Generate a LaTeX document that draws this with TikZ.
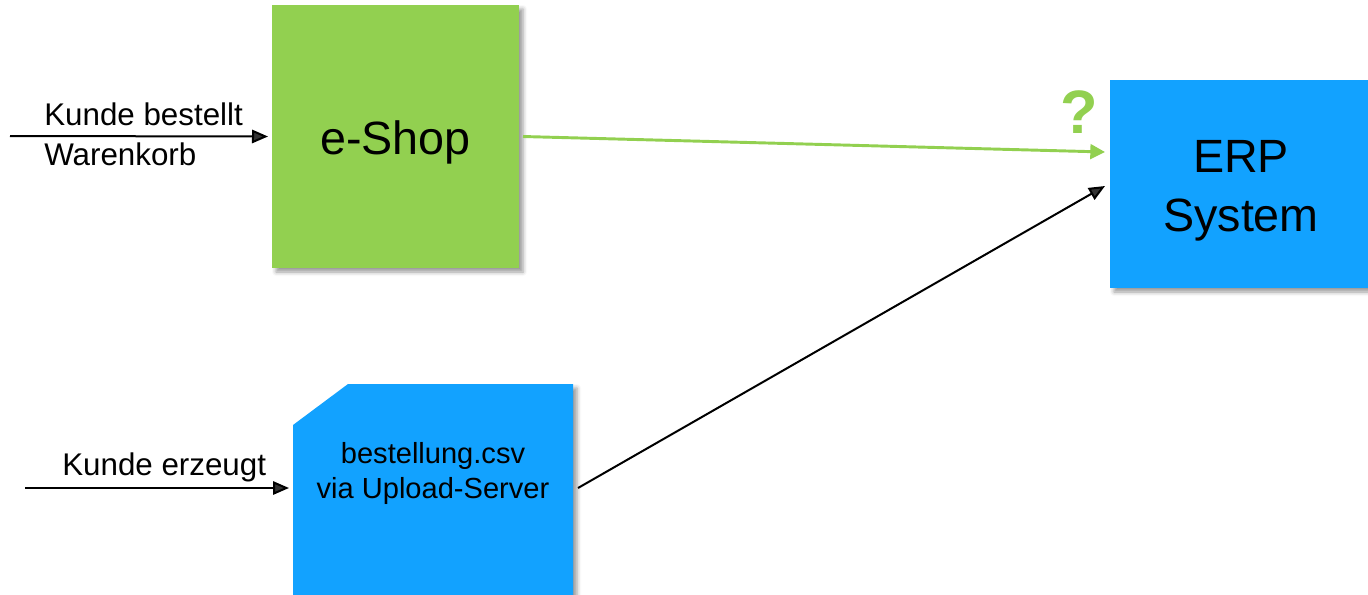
\documentclass[tikz,border=0pt]{standalone}
\usepackage{fontspec}
\setmainfont{Liberation Sans}
\usetikzlibrary{arrows.meta,calc,shadows.blur}
\definecolor{shopgreen}{RGB}{146,208,80}
\definecolor{erpblue}{RGB}{18,162,255}
\begin{document}
\begin{tikzpicture}[x=0.75pt,y=-0.75pt,
  softshadow/.style={blur shadow={shadow xshift=3pt,shadow yshift=-3pt,
      shadow blur radius=3pt,shadow opacity=40}},
  block/.style={rectangle,inner sep=0pt,outer sep=0pt,softshadow},
  bigtext/.style={inner sep=0pt,align=center,font=\fontsize{35}{44.25}\selectfont},
  boxtext/.style={inner sep=0pt,align=center,font=\fontsize{21.8}{26.25}\selectfont},
  smalltext/.style={inner sep=0pt,anchor=base west,font=\fontsize{23.5}{30}\selectfont},
  flow/.style={line width=1.5pt,-{Triangle[length=12pt,width=10pt]}},
  greenflow/.style={draw=shopgreen,line width=2.2pt,-{Triangle[length=11pt,width=11pt]}}
]
\useasboundingbox (0,0) rectangle (1368,594);
\clip (0,0) rectangle (1368,594);

% main blocks
\node[block,fill=shopgreen,minimum width=185.25pt,minimum height=197.25pt] (eshop) at (395.5,136.5) {};
\node[block,fill=erpblue,minimum width=196.5pt,minimum height=156pt] (erp) at (1241,184) {};

% upload file with cut corner
\node[inner sep=0pt,outer sep=0pt,minimum width=210pt,minimum height=165pt] (csv) at (433,494) {};
\fill[erpblue,softshadow] ($(csv.north west)+(0,41)$) -- ($(csv.north west)+(55,0)$)
  -- (csv.north east) -- (csv.south east) -- (csv.south west) -- cycle;

% block texts
\node[bigtext] (eshoptext) at ($(eshop.center)+(0,6)$) {e-Shop};
\node[bigtext] (erptext) at ($(erp.center)+(0,7)$) {ERP\\System};
\node[boxtext] (csvtext) at (433,473) {bestellung.csv\\via Upload-Server};

% inputs
\coordinate (in1) at (10,136);
\coordinate (in2) at (25,488);
\draw[flow] (in1) -- ($(eshop.west)+(-4,0)$);
\draw[flow] (in2) -- ($(csv.west)+(-4,-6)$);
\node[smalltext] (lbl1) at (44,125) {Kunde bestellt};
\node[smalltext] (lbl2) at (44,165) {Warenkorb};
\node[smalltext] (lbl3) at (62,475) {Kunde erzeugt};

% connections to the ERP system
\draw[greenflow] ($(eshop.east)+(4,0)$) -- ($(erp.west)+(-5,-32)$);
\draw[flow] ($(csv.east)+(5,-6)$) -- ($(erp.west)+(-5,2)$);
\node[anchor=base,inner sep=0pt,text=shopgreen,font=\bfseries\fontsize{46}{54}\selectfont] (q) at (1079,133) {?};
\end{tikzpicture}
\end{document}
